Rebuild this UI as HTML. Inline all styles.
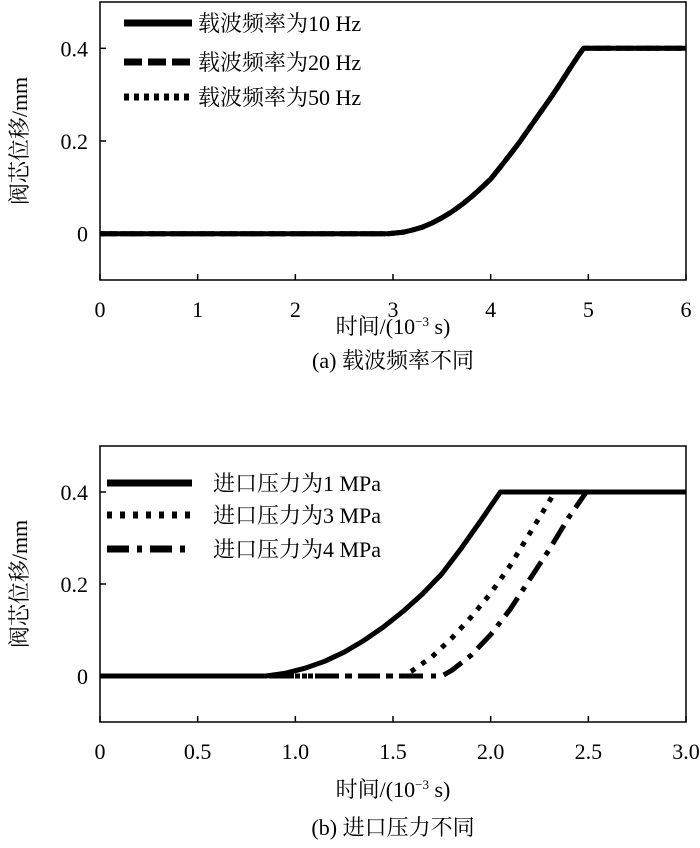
<!DOCTYPE html>
<html><head><meta charset="utf-8">
<style>
body{margin:0;background:#fff;}
svg{display:block;font-family:"Liberation Serif","Noto Serif CJK SC",serif;}
</style></head>
<body>
<svg id="s" width="700" height="848" viewBox="0 0 700 848"></svg>
<script>
// Chart (a) data
const aXTicks=[0,1,2,3,4,5,6];
const aYTicks=[0,0.2,0.4];
const aYLabels=["0","0.2","0.4"];
const aTime=[0,2.95,3.1,3.2,3.3,3.4,3.5,3.6,3.7,3.8,3.9,4,4.1,4.2,4.3,4.4,4.5,4.6,4.7,4.8,4.9,4.95,6];
const aDisp=[0,0,0.003,0.008,0.014,0.023,0.034,0.047,0.062,0.079,0.098,0.118,0.144,0.171,0.199,0.229,0.259,0.289,0.32,0.353,0.385,0.4,0.4];
const aSeries=["载波频率为10 Hz","载波频率为20 Hz","载波频率为50 Hz"];
// Chart (b) data
const bXTicks=[0,0.5,1.0,1.5,2.0,2.5,3.0];
const bXLabels=["0","0.5","1.0","1.5","2.0","2.5","3.0"];
const bYTicks=[0,0.2,0.4];
const b1Time=[0,0.85,0.95,1.05,1.15,1.25,1.35,1.45,1.55,1.65,1.75,1.85,1.95,2.05,3.0];
const b1Disp=[0,0,0.006,0.017,0.032,0.052,0.077,0.106,0.14,0.178,0.222,0.278,0.338,0.4,0.4];
const b3Time=[0,1.55,1.6,1.7,1.8,1.9,2.0,2.1,2.2,2.3,2.33,3.0];
const b3Disp=[0,0,0.012,0.042,0.082,0.128,0.18,0.24,0.31,0.38,0.4,0.4];
const b4Time=[0,1.75,1.8,1.9,2.0,2.1,2.2,2.3,2.4,2.49,3.0];
const b4Disp=[0,0,0.012,0.045,0.09,0.145,0.21,0.275,0.345,0.4,0.4];
const bSeries=["进口压力为1 MPa","进口压力为3 MPa","进口压力为4 MPa"];

const svg=document.getElementById('s');
const NS="http://www.w3.org/2000/svg";
function el(tag,attrs,parent){const e=document.createElementNS(NS,tag);for(const k in attrs)e.setAttribute(k,attrs[k]);(parent||svg).appendChild(e);return e;}
function txt(x,y,s,anchor,size,parent){const t=el('text',{x:x,y:y,'text-anchor':anchor,'font-size':size,fill:'#000'},parent);t.textContent=s;return t;}

function chart(cfg){
  const g=el('g',{});
  
  
  const L=100,R=686,T=cfg.top,B=cfg.bottom;
  const xs=v=>L+(v-cfg.xmin)/(cfg.xmax-cfg.xmin)*(R-L);
  const ys=v=>B-(v-(-0.1))/(0.6)*(B-T);
  const frame=el('rect',{x:L,y:T,width:R-L,height:B-T,fill:'none',stroke:'#000','stroke-width':1.5},g);
  
  
  cfg.xticks.forEach((v,i)=>{
    const x=xs(v);
    el('line',{x1:x,y1:B,x2:x,y2:B-6,stroke:'#000','stroke-width':1.5},g);
    const t=txt(x,B+37,cfg.xlabels[i],'middle',22,g);
    
    
  });
  cfg.yticks.forEach((v,i)=>{
    const y=ys(v);
    el('line',{x1:L,y1:y,x2:L+6,y2:y,stroke:'#000','stroke-width':1.5},g);
    const t=txt(L-12,y+8,cfg.ylabels[i],'end',22,g);
    
    
  });
  cfg.series.forEach((s,k)=>{
    const d=s.t.map((tv,i)=>(i?'L':'M')+xs(tv).toFixed(1)+','+ys(s.v[i]).toFixed(1)).join('');
    const p=el('path',{d:d,fill:'none',stroke:'#000','stroke-width':5,'stroke-dasharray':s.dash,'stroke-linejoin':'round'},g);
    
    
    const ly=cfg.legY[k];
    const ll=el('line',{x1:cfg.legX1,y1:ly,x2:cfg.legX2,y2:ly,stroke:'#000','stroke-width':7,'stroke-dasharray':s.dash},g);
    
    
    const lt=txt(cfg.legTX,ly+8,s.label,'start',22,g);
    
    
  });
  const yt=txt(0,0,'阀芯位移/mm','middle',22,g);
  yt.setAttribute('transform','translate(27,'+((T+B)/2)+') rotate(-90)');
  
  
  const xt=el('text',{x:(L+R)/2,y:cfg.xtY,'text-anchor':'middle','font-size':22},g);
  xt.innerHTML='时间/(10<tspan font-size="13" dy="-8">−3</tspan><tspan dy="8"> s)</tspan>';
  
  
  const cap=txt((L+R)/2,cfg.capY,cfg.caption,'middle',22,g);
  
  
}

chart({name:'chart-a',top:2,bottom:280,xmin:0,xmax:6,xticks:aXTicks,xlabels:aXTicks.map(String),
  yticks:aYTicks,ylabels:aYLabels,
  series:[{t:aTime,v:aDisp,dash:'none',label:aSeries[0]},
          {t:aTime,v:aDisp,dash:'18,6',label:aSeries[1]},
          {t:aTime,v:aDisp,dash:'5,5',label:aSeries[2]}],
  legY:[23,62,97],legX1:124,legX2:192,legTX:198,xtY:334,capY:368,caption:'(a) 载波频率不同'});

chart({name:'chart-b',top:446,bottom:722,xmin:0,xmax:3,xticks:bXTicks,xlabels:bXLabels,
  yticks:bYTicks,ylabels:aYLabels,
  series:[{t:b1Time,v:b1Disp,dash:'none',label:bSeries[0]},
          {t:b3Time,v:b3Disp,dash:'5,8',label:bSeries[1]},
          {t:b4Time,v:b4Disp,dash:'22,8,5,8',label:bSeries[2]}],
  legY:[483,515,549],legX1:107,legX2:192,legTX:213,xtY:797,capY:835,caption:'(b) 进口压力不同'});
</script>
</body></html>
